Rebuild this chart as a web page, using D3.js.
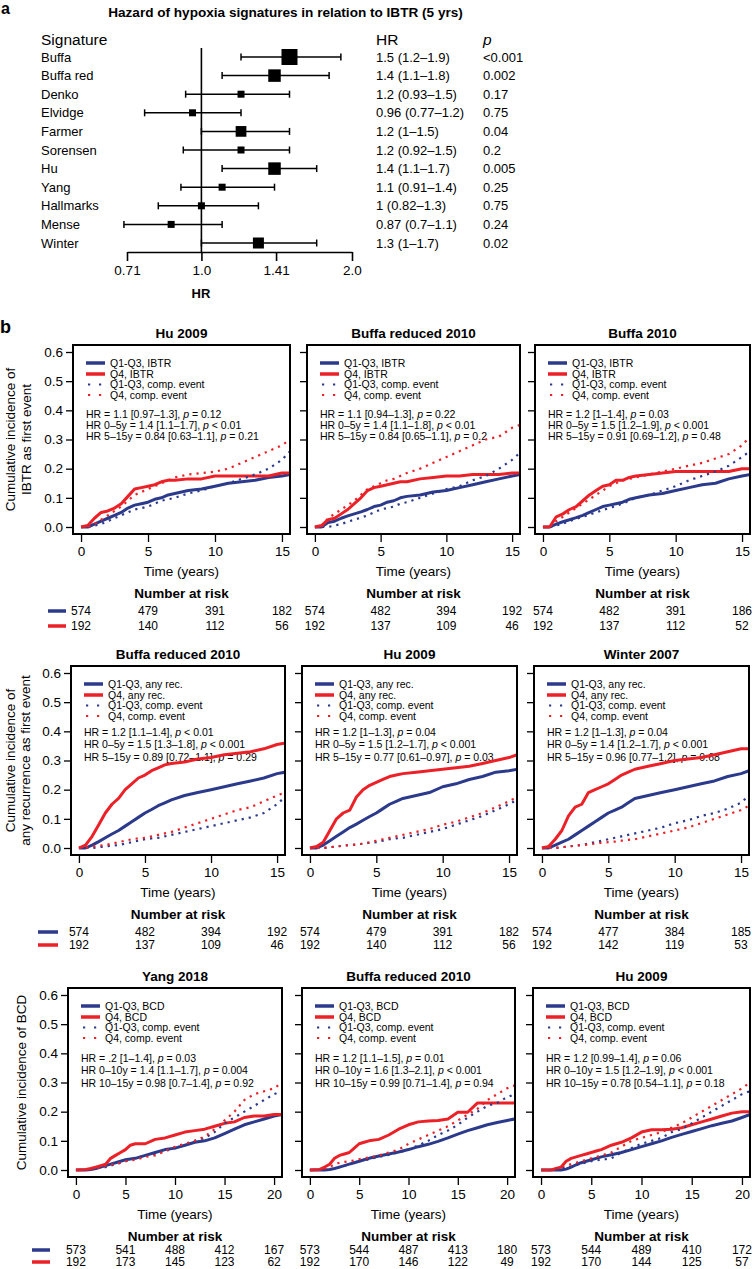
<!DOCTYPE html>
<html><head><meta charset="utf-8">
<script src="https://cdn.jsdelivr.net/npm/d3@7"></script>
<style>
body{margin:0;background:#fff;}
svg{display:block;font-family:"Liberation Sans",Arial,Helvetica,sans-serif;}
</style></head><body>
<script>
// ================= DATA: panel a (forest plot) =================
const signatures = ["Buffa","Buffa red","Denko","Elvidge","Farmer","Sorensen","Hu","Yang","Hallmarks","Mense","Winter"];
const hrValues = [1.5,1.4,1.2,0.96,1.2,1.2,1.4,1.1,1,0.87,1.3];
const hrLower  = [1.2,1.1,0.93,0.77,1,0.92,1.1,0.91,0.82,0.7,1];
const hrUpper  = [1.9,1.8,1.5,1.2,1.5,1.5,1.7,1.4,1.3,1.1,1.7];
const pLabels  = ["<0.001","0.002","0.17","0.75","0.04","0.2","0.005","0.25","0.75","0.24","0.02"];
const forestTicks = [0.71,1.0,1.41,2.0];
const forestTickLabels = ["0.71","1.0","1.41","2.0"];

// ================= DATA: panel b (cumulative incidence) =================
const time15 = [0,0.5,1,1.5,2,2.5,3,3.5,4,4.5,5,5.5,6,6.5,7,8,9,10,11,12,13,14,15,15.6];
const time20 = [0,1,1.5,2,2.5,3,3.5,4,4.5,5,5.5,6,7,8,9,10,11,12,13,14,15,16,17,18,19,20,20.8];
const xTicks15 = [0,5,10,15];
const xTicks20 = [0,5,10,15,20];
const yTicks = [0,0.1,0.2,0.3,0.4,0.5,0.6];

// Row 1: IBTR
const huIbtrQ4      = [0,0.005,0.03,0.05,0.055,0.065,0.08,0.105,0.13,0.135,0.14,0.145,0.155,0.16,0.16,0.165,0.165,0.175,0.175,0.175,0.175,0.175,0.185,0.185];
const huIbtrQ13     = [0,0,0.01,0.02,0.03,0.04,0.05,0.065,0.075,0.08,0.085,0.095,0.1,0.11,0.115,0.125,0.13,0.14,0.15,0.155,0.16,0.17,0.175,0.18];
const huIbtrQ4Comp  = [0,0,0.01,0.025,0.04,0.055,0.07,0.09,0.11,0.12,0.13,0.14,0.15,0.16,0.17,0.18,0.185,0.19,0.2,0.22,0.24,0.26,0.28,0.3];
const huIbtrQ13Comp = [0,0,0.005,0.01,0.02,0.03,0.04,0.05,0.06,0.065,0.07,0.08,0.09,0.095,0.1,0.115,0.125,0.14,0.15,0.165,0.18,0.2,0.23,0.26];

const bredIbtrQ4      = [0,0.005,0.025,0.03,0.045,0.06,0.08,0.1,0.125,0.135,0.14,0.145,0.15,0.155,0.155,0.165,0.17,0.175,0.175,0.18,0.18,0.18,0.185,0.185];
const bredIbtrQ13     = [0,0,0.015,0.02,0.03,0.038,0.045,0.052,0.06,0.07,0.075,0.085,0.09,0.1,0.105,0.11,0.12,0.125,0.135,0.145,0.155,0.165,0.175,0.18];
const bredIbtrQ4Comp  = [0,0,0.03,0.045,0.06,0.075,0.09,0.11,0.13,0.14,0.15,0.16,0.165,0.175,0.185,0.2,0.22,0.24,0.26,0.28,0.3,0.31,0.34,0.35];
const bredIbtrQ13Comp = [0,0,0,0.005,0.01,0.018,0.025,0.032,0.04,0.05,0.06,0.065,0.07,0.08,0.085,0.1,0.115,0.13,0.14,0.16,0.175,0.2,0.23,0.255];

const buffaIbtrQ4      = [0,0,0.035,0.045,0.06,0.07,0.09,0.11,0.125,0.14,0.145,0.16,0.16,0.17,0.175,0.18,0.185,0.19,0.19,0.19,0.19,0.19,0.2,0.2];
const buffaIbtrQ13     = [0,0,0.01,0.018,0.025,0.032,0.04,0.05,0.06,0.07,0.075,0.08,0.085,0.095,0.1,0.11,0.115,0.125,0.135,0.145,0.15,0.165,0.175,0.18];
const buffaIbtrQ4Comp  = [0,0,0.02,0.035,0.05,0.065,0.08,0.095,0.11,0.125,0.14,0.15,0.16,0.165,0.17,0.18,0.19,0.2,0.21,0.22,0.235,0.25,0.28,0.31];
const buffaIbtrQ13Comp = [0,0,0.005,0.012,0.02,0.028,0.035,0.042,0.05,0.058,0.065,0.072,0.08,0.09,0.1,0.11,0.125,0.14,0.16,0.175,0.19,0.21,0.24,0.26];

// Row 2: any recurrence
const bredRecQ4      = [0,0.01,0.04,0.08,0.12,0.15,0.17,0.2,0.22,0.24,0.25,0.265,0.275,0.285,0.29,0.295,0.305,0.31,0.32,0.325,0.33,0.34,0.355,0.36];
const bredRecQ13     = [0,0,0.01,0.022,0.035,0.048,0.06,0.075,0.09,0.105,0.12,0.132,0.145,0.155,0.165,0.18,0.19,0.2,0.21,0.22,0.23,0.24,0.255,0.26];
const bredRecQ4Comp  = [0,0,0.005,0.008,0.01,0.015,0.02,0.025,0.03,0.033,0.035,0.04,0.045,0.05,0.055,0.07,0.085,0.1,0.115,0.13,0.14,0.16,0.18,0.19];
const bredRecQ13Comp = [0,0,0,0.003,0.005,0.008,0.01,0.015,0.02,0.025,0.03,0.033,0.035,0.04,0.045,0.055,0.065,0.075,0.085,0.095,0.105,0.12,0.15,0.175];

const huRecQ4      = [0,0.005,0.02,0.06,0.1,0.12,0.13,0.175,0.2,0.215,0.225,0.235,0.245,0.25,0.255,0.26,0.265,0.27,0.275,0.28,0.29,0.3,0.31,0.32];
const huRecQ13     = [0,0,0.01,0.025,0.04,0.055,0.07,0.082,0.095,0.108,0.12,0.135,0.15,0.16,0.17,0.18,0.19,0.21,0.22,0.235,0.245,0.26,0.265,0.27];
const huRecQ4Comp  = [0,0,0,0.003,0.005,0.008,0.01,0.012,0.015,0.02,0.025,0.03,0.035,0.04,0.045,0.055,0.065,0.08,0.09,0.105,0.12,0.14,0.16,0.175];
const huRecQ13Comp = [0,0,0,0.003,0.005,0.008,0.01,0.012,0.015,0.018,0.02,0.025,0.03,0.033,0.035,0.045,0.055,0.065,0.08,0.095,0.11,0.13,0.15,0.165];

const winterRecQ4      = [0,0.005,0.03,0.06,0.11,0.14,0.15,0.19,0.2,0.21,0.22,0.235,0.25,0.26,0.27,0.28,0.29,0.3,0.305,0.31,0.32,0.33,0.34,0.34];
const winterRecQ13     = [0,0,0.01,0.02,0.03,0.045,0.06,0.075,0.09,0.105,0.12,0.13,0.14,0.155,0.17,0.18,0.19,0.2,0.21,0.22,0.23,0.245,0.255,0.265];
const winterRecQ4Comp  = [0,0,0,0.003,0.005,0.008,0.01,0.012,0.015,0.018,0.02,0.022,0.025,0.028,0.03,0.04,0.05,0.06,0.07,0.085,0.1,0.115,0.13,0.145];
const winterRecQ13Comp = [0,0,0,0.003,0.005,0.008,0.01,0.015,0.02,0.025,0.03,0.035,0.04,0.045,0.05,0.06,0.07,0.085,0.095,0.11,0.12,0.135,0.155,0.18];

// Row 3: BCD
const yangBcdQ4      = [0,0.002,0.005,0.01,0.015,0.02,0.04,0.05,0.06,0.07,0.085,0.09,0.09,0.105,0.11,0.12,0.13,0.135,0.14,0.15,0.16,0.165,0.18,0.185,0.185,0.19,0.19];
const yangBcdQ13     = [0,0,0.002,0.005,0.01,0.015,0.02,0.025,0.03,0.035,0.038,0.04,0.05,0.06,0.07,0.075,0.085,0.095,0.1,0.11,0.125,0.14,0.155,0.165,0.175,0.185,0.19];
const yangBcdQ4Comp  = [0,0,0.002,0.005,0.01,0.015,0.018,0.02,0.025,0.03,0.033,0.035,0.045,0.05,0.065,0.08,0.09,0.1,0.115,0.14,0.17,0.2,0.24,0.26,0.27,0.28,0.3];
const yangBcdQ13Comp = [0,0,0.002,0.005,0.008,0.01,0.015,0.02,0.025,0.03,0.035,0.04,0.05,0.055,0.065,0.075,0.085,0.1,0.11,0.13,0.16,0.18,0.2,0.22,0.24,0.26,0.27];

const bredBcdQ4      = [0,0.002,0.01,0.02,0.04,0.05,0.055,0.06,0.075,0.09,0.095,0.1,0.105,0.12,0.14,0.155,0.165,0.168,0.17,0.175,0.198,0.198,0.23,0.23,0.23,0.23,0.23];
const bredBcdQ13     = [0,0,0,0.002,0.005,0.01,0.015,0.02,0.025,0.03,0.035,0.04,0.048,0.055,0.062,0.07,0.08,0.088,0.098,0.11,0.123,0.135,0.145,0.155,0.163,0.17,0.175];
const bredBcdQ4Comp  = [0,0,0.005,0.01,0.02,0.025,0.028,0.03,0.033,0.037,0.04,0.043,0.05,0.06,0.07,0.09,0.105,0.12,0.135,0.15,0.17,0.19,0.21,0.24,0.26,0.28,0.29];
const bredBcdQ13Comp = [0,0,0,0.002,0.005,0.01,0.015,0.02,0.025,0.03,0.033,0.037,0.045,0.052,0.06,0.07,0.085,0.1,0.12,0.135,0.155,0.18,0.2,0.22,0.23,0.25,0.26];

const huBcdQ4      = [0,0,0.005,0.01,0.03,0.04,0.045,0.05,0.055,0.06,0.065,0.07,0.085,0.095,0.11,0.13,0.138,0.138,0.14,0.145,0.155,0.165,0.175,0.185,0.195,0.2,0.2];
const huBcdQ13     = [0,0,0,0,0.003,0.01,0.018,0.025,0.03,0.035,0.04,0.045,0.052,0.06,0.07,0.08,0.09,0.1,0.112,0.122,0.132,0.142,0.152,0.16,0.168,0.18,0.19];
const huBcdQ4Comp  = [0,0,0.005,0.01,0.015,0.02,0.025,0.03,0.035,0.04,0.045,0.05,0.06,0.08,0.1,0.11,0.12,0.13,0.145,0.16,0.18,0.2,0.22,0.24,0.26,0.28,0.3];
const huBcdQ13Comp = [0,0,0.003,0.005,0.01,0.012,0.018,0.022,0.026,0.03,0.033,0.035,0.04,0.06,0.075,0.09,0.1,0.11,0.13,0.14,0.16,0.18,0.2,0.22,0.24,0.26,0.27];

// HR annotation texts
const hrTextR1P1 = ["HR = 1.1 [0.97–1.3], p = 0.12","HR 0–5y = 1.4 [1.1–1.7], p < 0.01","HR 5–15y = 0.84 [0.63–1.1], p = 0.21"];
const hrTextR1P2 = ["HR = 1.1 [0.94–1.3], p = 0.22","HR 0–5y = 1.4 [1.1–1.8], p < 0.01","HR 5–15y = 0.84 [0.65–1.1], p = 0.2"];
const hrTextR1P3 = ["HR = 1.2 [1–1.4], p = 0.03","HR 0–5y = 1.5 [1.2–1.9], p < 0.001","HR 5–15y = 0.91 [0.69–1.2], p = 0.48"];
const hrTextR2P1 = ["HR = 1.2 [1.1–1.4], p < 0.01","HR 0–5y = 1.5 [1.3–1.8], p < 0.001","HR 5–15y = 0.89 [0.72–1.1], p = 0.29"];
const hrTextR2P2 = ["HR = 1.2 [1–1.3], p = 0.04","HR 0–5y = 1.5 [1.2–1.7], p < 0.001","HR 5–15y = 0.77 [0.61–0.97], p = 0.03"];
const hrTextR2P3 = ["HR = 1.2 [1–1.3], p = 0.04","HR 0–5y = 1.4 [1.2–1.7], p < 0.001","HR 5–15y = 0.96 [0.77–1.2], p = 0.68"];
const hrTextR3P1 = ["HR = .2 [1–1.4], p = 0.03","HR 0–10y = 1.4 [1.1–1.7], p = 0.004","HR 10–15y = 0.98 [0.7–1.4], p = 0.92"];
const hrTextR3P2 = ["HR = 1.2 [1.1–1.5], p = 0.01","HR 0–10y = 1.6 [1.3–2.1], p < 0.001","HR 10–15y = 0.99 [0.71–1.4], p = 0.94"];
const hrTextR3P3 = ["HR = 1.2 [0.99–1.4], p = 0.06","HR 0–10y = 1.5 [1.2–1.9], p < 0.001","HR 10–15y = 0.78 [0.54–1.1], p = 0.18"];

// Numbers at risk
const riskR1P1Q13 = [574,479,391,182], riskR1P1Q4 = [192,140,112,56];
const riskR1P2Q13 = [574,482,394,192], riskR1P2Q4 = [192,137,109,46];
const riskR1P3Q13 = [574,482,391,186], riskR1P3Q4 = [192,137,112,52];
const riskR2P1Q13 = [574,482,394,192], riskR2P1Q4 = [192,137,109,46];
const riskR2P2Q13 = [574,479,391,182], riskR2P2Q4 = [192,140,112,56];
const riskR2P3Q13 = [574,477,384,185], riskR2P3Q4 = [192,142,119,53];
const riskR3P1Q13 = [573,541,488,412,167], riskR3P1Q4 = [192,173,145,123,62];
const riskR3P2Q13 = [573,544,487,413,180], riskR3P2Q4 = [192,170,146,122,49];
const riskR3P3Q13 = [573,544,489,410,172], riskR3P3Q4 = [192,170,144,125,57];

// ================= STRUCTURE =================
const kmRows = [
  { endpoint:"IBTR", ylab:["Cumulative incidence of","IBTR as first event"], times:time15, xTicks:xTicks15, xDomain:[-0.6,15.6],
    panels:[
      {title:"Hu 2009", q13:huIbtrQ13, q4:huIbtrQ4, q13c:huIbtrQ13Comp, q4c:huIbtrQ4Comp, hr:hrTextR1P1, r13:riskR1P1Q13, r4:riskR1P1Q4},
      {title:"Buffa reduced 2010", q13:bredIbtrQ13, q4:bredIbtrQ4, q13c:bredIbtrQ13Comp, q4c:bredIbtrQ4Comp, hr:hrTextR1P2, r13:riskR1P2Q13, r4:riskR1P2Q4},
      {title:"Buffa 2010", q13:buffaIbtrQ13, q4:buffaIbtrQ4, q13c:buffaIbtrQ13Comp, q4c:buffaIbtrQ4Comp, hr:hrTextR1P3, r13:riskR1P3Q13, r4:riskR1P3Q4}
    ]},
  { endpoint:"any rec.", ylab:["Cumulative incidence of","any recurrence as first event"], times:time15, xTicks:xTicks15, xDomain:[-0.6,15.6],
    panels:[
      {title:"Buffa reduced 2010", q13:bredRecQ13, q4:bredRecQ4, q13c:bredRecQ13Comp, q4c:bredRecQ4Comp, hr:hrTextR2P1, r13:riskR2P1Q13, r4:riskR2P1Q4},
      {title:"Hu 2009", q13:huRecQ13, q4:huRecQ4, q13c:huRecQ13Comp, q4c:huRecQ4Comp, hr:hrTextR2P2, r13:riskR2P2Q13, r4:riskR2P2Q4},
      {title:"Winter 2007", q13:winterRecQ13, q4:winterRecQ4, q13c:winterRecQ13Comp, q4c:winterRecQ4Comp, hr:hrTextR2P3, r13:riskR2P3Q13, r4:riskR2P3Q4}
    ]},
  { endpoint:"BCD", ylab:["Cumulative incidence of BCD"], times:time20, xTicks:xTicks20, xDomain:[-0.8,20.8],
    panels:[
      {title:"Yang 2018", q13:yangBcdQ13, q4:yangBcdQ4, q13c:yangBcdQ13Comp, q4c:yangBcdQ4Comp, hr:hrTextR3P1, r13:riskR3P1Q13, r4:riskR3P1Q4},
      {title:"Buffa reduced 2010", q13:bredBcdQ13, q4:bredBcdQ4, q13c:bredBcdQ13Comp, q4c:bredBcdQ4Comp, hr:hrTextR3P2, r13:riskR3P2Q13, r4:riskR3P2Q4},
      {title:"Hu 2009", q13:huBcdQ13, q4:huBcdQ4, q13c:huBcdQ13Comp, q4c:huBcdQ4Comp, hr:hrTextR3P3, r13:riskR3P3Q13, r4:riskR3P3Q4}
    ]}
];

// ================= LAYOUT =================
const W = 753, H = 1269;
const BLUE = "#2c3a8c", RED = "#ec2127";
const rowTop = [345, 666, 988], boxH = 189;
const panelLeft = [[73,307,535],[71,302,534],[68,302,533]];
const panelW = [[217,213,215],[214,215,215],[214,213,217]];
const hrOff = [[69,80,91],[66,78.5,91],[70,82.5,95]];
const legOff = [18,29,39.5,50];
const riskLeg = [[48,66],[38,58],[32,50]];
const riskBase = [81,81,77];
const riskGap = [15,13,12];
const ylabX = [[10,26],[10,25],[21]];

const svg = d3.select("body").append("svg").attr("width", W).attr("height", H);
const defs = svg.append("defs");

// ================= PANEL a =================
svg.append("text").attr("x",1).attr("y",14).attr("font-weight","bold").attr("font-size",16).text("a");
const mainTitle = svg.append("text").attr("x",285.5).attr("y",17).attr("text-anchor","middle").attr("font-weight","bold")
  .attr("font-size",13.6).text("Hazard of hypoxia signatures in relation to IBTR (5 yrs)");
// fit the title to the span it covers in the reference (x 108 → 463)
{
  const len = mainTitle.node().getComputedTextLength();
  if (len > 0) mainTitle.attr("font-size", Math.min(15.5, 13.6 * 355 / len));
}

const fx = d3.scaleLog().base(2).domain([0.71,2]).range([127,352]);
const fy = d3.scalePoint().domain(signatures).range([57,243]);
const pNum = pLabels.map(s => parseFloat(s.replace("<","")) * (s.startsWith("<") ? 0.9 : 1));
const boxSize = d3.scaleThreshold().domain([0.0015,0.01,0.03,0.05]).range([16,12.5,11,10.7,7]);

const hdr = svg.append("g").attr("font-size",15.5);
hdr.append("text").attr("x",41).attr("y",45).text("Signature");
hdr.append("text").attr("x",376).attr("y",45).text("HR");
hdr.append("text").attr("x",483).attr("y",45).attr("font-style","italic").text("p");

const rowsG = svg.append("g").attr("font-size",13);
signatures.forEach((s,i) => {
  const yy = fy(s);
  rowsG.append("text").attr("x",41).attr("y",yy).attr("dy","0.36em").text(s);
  rowsG.append("text").attr("x",376).attr("y",yy).attr("dy","0.36em").text(`${hrValues[i]} (${hrLower[i]}–${hrUpper[i]})`);
  rowsG.append("text").attr("x",483).attr("y",yy).attr("dy","0.36em").text(pLabels[i]);
});

svg.append("line").attr("x1",fx(1)).attr("x2",fx(1)).attr("y1",48).attr("y2",252).attr("stroke","#000").attr("stroke-width",1.6);

const fg = svg.append("g");
signatures.forEach((s,i) => {
  const yy = fy(s);
  fg.append("line").attr("x1",fx(hrLower[i])).attr("x2",fx(hrUpper[i])).attr("y1",yy).attr("y2",yy).attr("stroke","#000").attr("stroke-width",1.5);
  [hrLower[i],hrUpper[i]].forEach(v => fg.append("line").attr("x1",fx(v)).attr("x2",fx(v)).attr("y1",yy-3.5).attr("y2",yy+3.5).attr("stroke","#000").attr("stroke-width",1.5));
  const sz = boxSize(pNum[i]);
  fg.append("rect").attr("x",fx(hrValues[i])-sz/2).attr("y",yy-sz/2).attr("width",sz).attr("height",sz).attr("fill","#000");
});

const fAxis = svg.append("g").attr("transform","translate(0,252)")
  .call(d3.axisBottom(fx).tickValues(forestTicks).tickFormat((d,i)=>forestTickLabels[i]).tickSize(9).tickSizeOuter(0).tickPadding(4));
fAxis.attr("font-size",13.5).attr("font-family",null);
fAxis.selectAll("path,line").attr("stroke-width",1.6);
svg.append("text").attr("x",201).attr("y",298).attr("text-anchor","middle").attr("font-weight","bold").attr("font-size",13).text("HR");

// ================= PANEL b =================
svg.append("text").attr("x",0).attr("y",333).attr("font-weight","bold").attr("font-size",18).text("b");

function hrLine(sel, str){
  const idx = str.lastIndexOf(", p");
  sel.append("tspan").text(str.slice(0, idx+2));
  sel.append("tspan").attr("font-style","italic").text("p");
  sel.append("tspan").text(str.slice(idx+3));
}

kmRows.forEach((row, r) => {
  const T = rowTop[r], B = T + boxH;
  row.panels.forEach((p, c) => {
    const L = panelLeft[r][c], Wd = panelW[r][c];
    const x = d3.scaleLinear().domain(row.xDomain).range([L, L+Wd]);
    const y = d3.scaleLinear().domain([-0.024,0.624]).range([B, T]);
    const g = svg.append("g");
    const cid = `clip${r}${c}`;
    defs.append("clipPath").attr("id",cid).append("rect").attr("x",L+1).attr("y",T+1).attr("width",Wd-2).attr("height",boxH-2);

    // title
    g.append("text").attr("x",L+Wd/2).attr("y",T-7).attr("text-anchor","middle").attr("font-weight","bold").attr("font-size",13.5).text(p.title);

    // legend
    const leg = g.append("g").attr("font-size",10.5);
    const items = [
      {lab:`Q1-Q3, ${row.endpoint}`, col:BLUE, dot:false},
      {lab:`Q4, ${row.endpoint}`, col:RED, dot:false},
      {lab:"Q1-Q3, comp. event", col:BLUE, dot:true},
      {lab:"Q4, comp. event", col:RED, dot:true}
    ];
    items.forEach((it,k) => {
      const yy = T + legOff[k];
      if (it.dot) {
        leg.append("line").attr("x1",L+15).attr("x2",L+30).attr("y1",yy).attr("y2",yy).attr("stroke",it.col).attr("stroke-width",2.2).attr("stroke-dasharray","2.2,8.8");
      } else {
        leg.append("line").attr("x1",L+13).attr("x2",L+32).attr("y1",yy).attr("y2",yy).attr("stroke",it.col).attr("stroke-width",3.5);
      }
      leg.append("text").attr("x",L+37).attr("y",yy).attr("dy","0.36em").text(it.lab);
    });
    p.hr.forEach((s,k) => {
      const t = g.append("text").attr("x",L+13).attr("y",T+hrOff[r][k]).attr("dy","0.36em").attr("font-size",10.5);
      hrLine(t, s);
    });

    // curves
    const cg = g.append("g").attr("clip-path",`url(#${cid})`);
    const pts = arr => row.times.map((t,i)=>[t, arr[i]]);
    const lin = d3.line().x(d=>x(d[0])).y(d=>y(d[1]));
    cg.append("path").attr("d",lin(pts(p.q13))).attr("fill","none").attr("stroke",BLUE).attr("stroke-width",3).attr("stroke-linejoin","round");
    cg.append("path").attr("d",lin(pts(p.q4))).attr("fill","none").attr("stroke",RED).attr("stroke-width",3).attr("stroke-linejoin","round");
    cg.append("path").attr("d",lin(pts(p.q13c))).attr("fill","none").attr("stroke",BLUE).attr("stroke-width",2.2).attr("stroke-dasharray","2.2,5");
    cg.append("path").attr("d",lin(pts(p.q4c))).attr("fill","none").attr("stroke",RED).attr("stroke-width",2.2).attr("stroke-dasharray","2.2,5");

    // box
    g.append("rect").attr("x",L).attr("y",T).attr("width",Wd).attr("height",boxH).attr("fill","none").attr("stroke","#000").attr("stroke-width",2);

    // axes
    const ya = g.append("g").attr("transform",`translate(${L},0)`)
      .call(d3.axisLeft(y).tickValues(yTicks).tickSize(7).tickPadding(3).tickFormat(c===0 ? d3.format(".1f") : () => ""));
    ya.select(".domain").remove();
    ya.attr("font-size",13.5).attr("font-family",null);
    ya.selectAll("line").attr("stroke-width",1.3);
    const xa = g.append("g").attr("transform",`translate(0,${B})`)
      .call(d3.axisBottom(x).tickValues(row.xTicks).tickSize(8).tickPadding(4).tickFormat(d3.format("d")));
    xa.select(".domain").remove();
    xa.attr("font-size",13.5).attr("font-family",null);
    xa.selectAll("line").attr("stroke-width",1.3);

    // y label
    if (c === 0) {
      const yc = y(0.3);
      row.ylab.forEach((lab,k) => {
        g.append("text").attr("transform",`translate(${ylabX[r][k]},${yc}) rotate(-90)`).attr("text-anchor","middle")
          .attr("dy","0.36em").attr("font-size",13.5).text(lab);
      });
    }

    // x label
    g.append("text").attr("x",L+Wd/2).attr("y",B+42).attr("text-anchor","middle").attr("font-size",13.5).text("Time (years)");

    // number at risk
    g.append("text").attr("x",L+Wd/2).attr("y",B+64).attr("text-anchor","middle").attr("font-weight","bold").attr("font-size",13.5).text("Number at risk");
    const rg = g.append("g").attr("font-size",12).attr("text-anchor","middle");
    [p.r13, p.r4].forEach((vals,k) => {
      const by = B + riskBase[r] + k*riskGap[r];
      vals.forEach((v,i) => rg.append("text").attr("x",x(row.xTicks[i])).attr("y",by).text(v));
      if (c === 0) {
        g.append("line").attr("x1",riskLeg[r][0]).attr("x2",riskLeg[r][1]).attr("y1",by-4).attr("y2",by-4)
          .attr("stroke", k===0 ? BLUE : RED).attr("stroke-width",3.5);
      }
    });
  });
});
</script>
</body></html>
